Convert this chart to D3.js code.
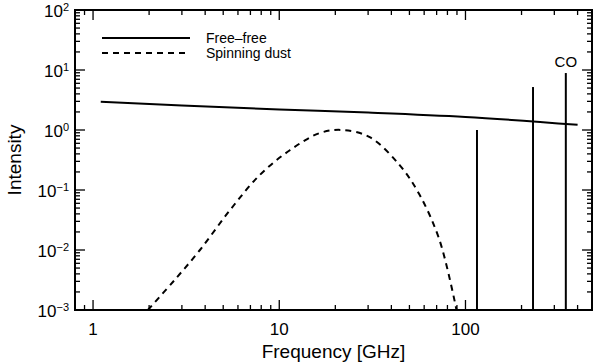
<!DOCTYPE html>
<html>
<head>
<meta charset="utf-8">
<script src="https://cdn.jsdelivr.net/npm/d3@7"></script>
<style>
  body { margin: 0; background: #fff; }
  text { font-family: "Liberation Sans", Arial, sans-serif; fill: #000; }
</style>
</head>
<body>
<div id="chart"></div>
<script>
// free-free (solid)
var ffFreq = [1.1, 3, 10, 30, 100, 400];
var ffVal = [2.95, 2.55, 2.2, 1.95, 1.65, 1.22];

// spinning dust (dashed)
var sdFreq = [1.97, 2.75, 3.75, 5.43, 7.86, 11.4, 16.5, 21.9, 30.6, 44.3, 56.7, 72.5, 89.5];
var sdVal = [0.001, 0.0032, 0.01, 0.046, 0.178, 0.46, 0.89, 1.0, 0.76, 0.26, 0.083, 0.0147, 0.001];

// CO lines
var coFreq = [115.27, 230.54, 345.8];
var coVal = [1.0, 5.2, 8.9];

var xTicks = [1, 10, 100];
var yTicks = [-3, -2, -1, 0, 1, 2];

var width = 600, h = 362;
var margin = {top: 10, right: 8, bottom: 52, left: 75};
var w = width - margin.left - margin.right,
    height = h - margin.top - margin.bottom;

var svg = d3.select("#chart").append("svg")
    .attr("width", width)
    .attr("height", h);

var x = d3.scaleLog().domain([0.8, 478]).range([0, w]),
    y = d3.scaleLog().domain([1e-3, 1e2]).range([height, 0]);

var g = svg.append("g")
    .attr("transform", "translate(" + margin.left + "," + margin.top + ")");

// minor/major tick values
var xMinor = [];
[0.1, 1, 10, 100].forEach(function (d) {
    for (var k = 2; k <= 9; k++) {
        var v = d * k;
        if (v >= 0.8 && v <= 478) xMinor.push(v);
    }
});
var yMinor = [];
yTicks.forEach(function (e) {
    for (var k = 2; k <= 9; k++) {
        var v = k * Math.pow(10, e);
        if (v < 1e2) yMinor.push(v);
    }
});

var ticks = g.append("g").attr("stroke", "#000").attr("stroke-width", 1.3);

function tickLines(vals, len, horizontal) {
    vals.forEach(function (v) {
        if (horizontal) {
            var px = x(v);
            ticks.append("line").attr("x1", px).attr("x2", px).attr("y1", height).attr("y2", height - len);
            ticks.append("line").attr("x1", px).attr("x2", px).attr("y1", 0).attr("y2", len);
        } else {
            var py = y(v);
            ticks.append("line").attr("y1", py).attr("y2", py).attr("x1", 0).attr("x2", len);
            ticks.append("line").attr("y1", py).attr("y2", py).attr("x1", w).attr("x2", w - len);
        }
    });
}
tickLines(xTicks, 10, true);
tickLines(xMinor, 5, true);
tickLines(yTicks.map(function (e) { return Math.pow(10, e); }), 10, false);
tickLines(yMinor, 5, false);

// frame
g.append("rect")
    .attr("width", w)
    .attr("height", height)
    .attr("fill", "none")
    .attr("stroke", "#000")
    .attr("stroke-width", 2);

// x tick labels
g.selectAll(".xlab").data(xTicks).enter().append("text")
    .attr("class", "xlab")
    .attr("x", function (d) { return x(d); })
    .attr("y", height + 25)
    .attr("text-anchor", "middle")
    .style("font-size", "17px")
    .text(function (d) { return d; });

// y tick labels 10^n
var ylab = g.selectAll(".ylab").data(yTicks).enter().append("text")
    .attr("class", "ylab")
    .attr("x", -6)
    .attr("y", function (d) { return y(Math.pow(10, d)) + 7; })
    .attr("text-anchor", "end")
    .style("font-size", "17px");
ylab.append("tspan").text("10");
ylab.append("tspan")
    .attr("dy", -6)
    .style("font-size", "11px")
    .text(function (d) { return d < 0 ? "\u2212" + (-d) : d; });

// axis titles
svg.append("text")
    .attr("x", margin.left + w / 2)
    .attr("y", 358)
    .attr("text-anchor", "middle")
    .style("font-size", "19px")
    .text("Frequency [GHz]");

svg.append("text")
    .attr("transform", "translate(21," + (margin.top + height / 2) + ") rotate(-90)")
    .attr("text-anchor", "middle")
    .style("font-size", "19px")
    .text("Intensity");

// data lines
var line = d3.line()
    .curve(d3.curveMonotoneX)
    .x(function (d) { return x(d[0]); })
    .y(function (d) { return y(d[1]); });

g.append("path")
    .datum(d3.zip(ffFreq, ffVal))
    .attr("d", line)
    .attr("fill", "none")
    .attr("stroke", "#000")
    .attr("stroke-width", 2);

g.append("path")
    .datum(d3.zip(sdFreq, sdVal))
    .attr("d", line.curve(d3.curveCatmullRom))
    .attr("fill", "none")
    .attr("stroke", "#000")
    .attr("stroke-width", 2)
    .attr("stroke-dasharray", "6,5");

g.selectAll(".co").data(d3.zip(coFreq, coVal)).enter().append("line")
    .attr("class", "co")
    .attr("x1", function (d) { return x(d[0]); })
    .attr("x2", function (d) { return x(d[0]); })
    .attr("y1", height)
    .attr("y2", function (d) { return y(d[1]); })
    .attr("stroke", "#000")
    .attr("stroke-width", 2);

g.append("text")
    .attr("x", x(coFreq[2]))
    .attr("y", y(coVal[2]) - 6)
    .attr("text-anchor", "middle")
    .style("font-size", "15px")
    .text("CO");

// legend
var legend = [{label: "Free\u2013free", dash: null}, {label: "Spinning dust", dash: "6,5"}];
var lg = g.selectAll(".lg").data(legend).enter().append("g")
    .attr("class", "lg")
    .attr("transform", function (d, i) { return "translate(0," + (28 + i * 15) + ")"; });
lg.append("line")
    .attr("x1", 27).attr("x2", 115)
    .attr("stroke", "#000")
    .attr("stroke-width", 2)
    .attr("stroke-dasharray", function (d) { return d.dash; });
lg.append("text")
    .attr("x", 131)
    .attr("y", 5)
    .style("font-size", "14px")
    .text(function (d) { return d.label; });
</script>
</body>
</html>
